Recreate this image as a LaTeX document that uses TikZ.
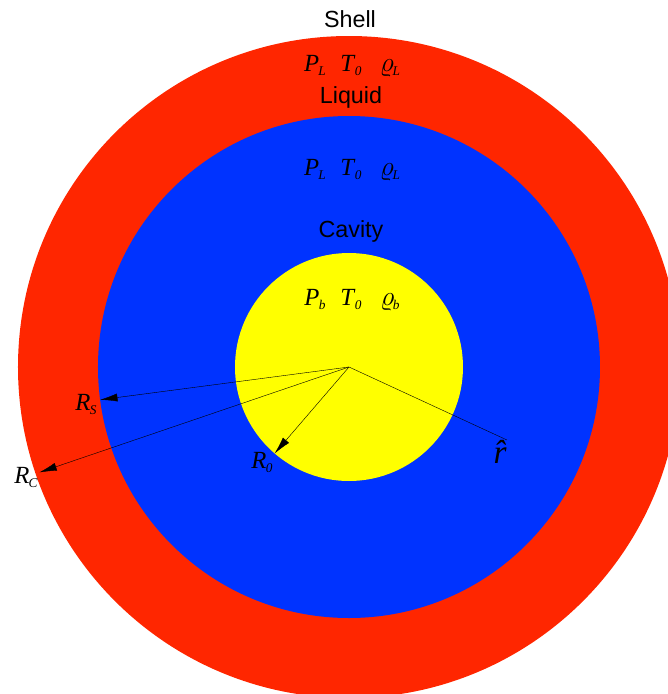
\documentclass[tikz,border=0pt]{standalone}
\usepackage{fontspec}
\setmainfont{Liberation Serif}
\setsansfont{Liberation Sans}
\definecolor{shellred}{RGB}{255,38,0}
\definecolor{liquidblue}{RGB}{0,51,255}
\definecolor{cavityyellow}{RGB}{255,255,0}
\usetikzlibrary{arrows.meta, positioning}
\newcommand{\subidx}[1]{\raisebox{-3.2pt}{\fontsize{10}{11}\selectfont\itshape #1}}
\newcommand{\qsym}[2]{\textit{#1}\kern-0.5pt\subidx{#2}}
\newcommand{\rhosym}[1]{{\fontsize{22}{24}\selectfont$\varrho$}\kern-1pt\subidx{#1}}

\begin{document}
\begin{tikzpicture}[x=0.75pt, y=0.75pt,
  region/.style={font=\sffamily\fontsize{17.5}{20}\selectfont, anchor=base},
  quant/.style={font=\fontsize{18.5}{21}\selectfont, anchor=base},
  rline/.style={line width=0.3pt, black},
  rarw/.style={rline, -{Latex[length=13pt, width=6pt]}},
]
\useasboundingbox (-349,-327) rectangle (319,367);
\clip (-349,-327) rectangle (319,367);

% Layers
\coordinate (O) at (0,0);
\fill[shellred] (O) circle (331);
\fill[liquidblue] (O) circle (251);
\fill[cavityyellow] (O) circle (114);

% Region names
\node[region] (shell) at (1,340) {Shell};
\node[region] (liquid) at (2,264) {Liquid};
\node[region] (cavity) at (2,130) {Cavity};

% State variables
\node[quant] (pS) at (-34,296) {\qsym{P}{L}};
\node[quant] (tS) at (2,296) {\qsym{T}{0}};
\node[quant] (rhoS) at (41,296) {\rhosym{L}};

\node[quant] (pL) at (-34,192) {\qsym{P}{L}};
\node[quant] (tL) at (2,192) {\qsym{T}{0}};
\node[quant] (rhoL) at (41,192) {\rhosym{L}};

\node[quant] (pC) at (-34,62) {\qsym{P}{b}};
\node[quant] (tC) at (2,62) {\qsym{T}{0}};
\node[quant] (rhoC) at (41,62) {\rhosym{b}};

% Radii
\coordinate (tipS) at (187.5:251);
\coordinate (tipC) at (198.8:327);
\coordinate (tip0) at (229.3:114);
\coordinate (rend) at (-24.8:174);

\draw[rarw] (O) -- (tipS);
\draw[rarw] (O) -- (tipC);
\draw[rarw] (O) -- (tip0);
\draw[rline] (O) -- (rend);

\node[quant] (lblS) at (-263,-43) {\qsym{R}{S}};
\node[quant] (lblC) at (-323,-116) {\qsym{R}{C}};
\node[quant] (lbl0) at (-87,-101) {\qsym{R}{0}};
\node[quant, font=\fontsize{25}{27}\selectfont\itshape] (lblr) at (151,-96) {\^{r}};
\end{tikzpicture}
\end{document}
